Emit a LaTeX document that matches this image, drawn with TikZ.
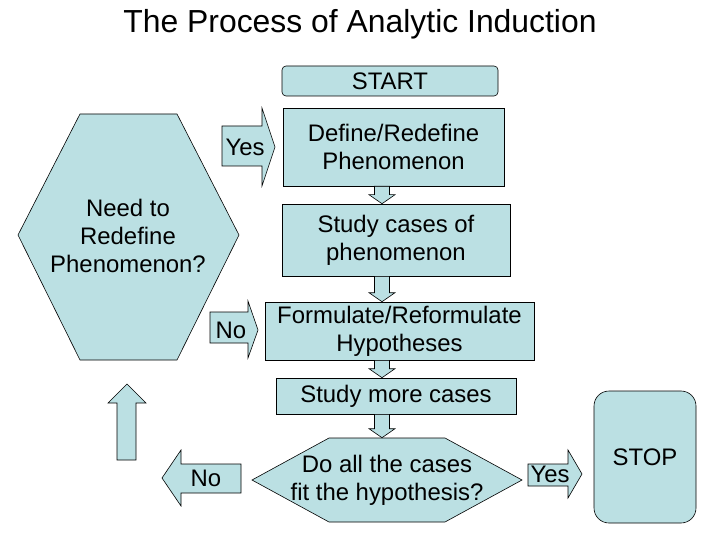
\documentclass[tikz,border=0pt]{standalone}
\usepackage{fontspec}
\setmainfont{Liberation Sans}
\usetikzlibrary{calc}
\definecolor{slide}{RGB}{187,224,227}
\tikzset{
	box/.style={draw, fill=slide, inner sep=0pt, align=center},
	blk/.style={draw, fill=slide, line join=miter},
	txt/.style={inner sep=0pt, align=center}
}
\begin{document}
\begin{tikzpicture}[x=1bp, y=-1bp, line width=0.6bp, font=\fontsize{24}{28}\selectfont]
	\useasboundingbox (0,0) rectangle (720,540);
	\node[txt, anchor=base, font=\fontsize{32}{36}\selectfont] (title) at (360,33) {The Process of Analytic Induction};
	% main column
	\node[box, rounded corners=4bp, minimum width=216bp, minimum height=30bp] (start) at (390,81) {START};
	\node[box, minimum width=221bp, minimum height=78bp] (define) at (393.5,147) {Define/Redefine\\Phenomenon};
	\node[box, minimum width=228bp, minimum height=72bp] (study) at (396,240) {Study cases of\\phenomenon};
	\node[box, minimum width=269bp, minimum height=58bp] (formulate) at (399.5,331) {Formulate/Reformulate\\Hypotheses};
	\node[box, minimum width=240bp, minimum height=36bp] (more) at (396,396) {Study more cases};
	\node[box, rounded corners=15bp, minimum width=102bp, minimum height=132bp] (stop) at (645,457) {STOP};
	% hexagons
	\draw[blk] (80,114)--(177,114)--(239,235)--(177,360)--(80,360)--(18,235)--cycle;
	\node[txt] (need) at (128,236) {Need to\\Redefine\\Phenomenon?};
	\draw[blk] (252,480)--(329,438)--(445,438)--(522,480)--(445,522)--(329,522)--cycle;
	\node[txt, minimum height=84bp] (ask) at (387,480) {Do all the cases\\fit the hypothesis?};
	% down arrows
	\coordinate (axis) at (382,0);
	\foreach \a/\b in {define/study,study/formulate,formulate/more,more/ask}{
		\path (axis |- \a.south) coordinate (p) (axis |- \b.north) coordinate (q);
		\draw[blk] ($(p)+(-7.5,0)$)--($(q)+(-7.5,-9)$)--($(q)+(-13,-9)$)--(q)--($(q)+(13,-9)$)--($(q)+(7.5,-9)$)--($(p)+(7.5,0)$)--cycle;
	}
	% side arrows
	\draw[blk] (222,126)--(262,126)--(262,108)--(275,147)--(262,186)--(262,166)--(222,166)--cycle;
	\node[txt] (yesup) at (245,147) {Yes};
	\draw[blk] (210,312)--(248,312)--(248,301)--(258,330)--(248,358)--(248,343)--(210,343)--cycle;
	\node[txt] (noup) at (231,330) {No};
	\draw[blk] (117,460)--(117,403)--(108,403)--(127,384)--(146,403)--(136,403)--(136,460)--cycle;
	\draw[blk] (241,464)--(181,464)--(181,450)--(162,478)--(181,506)--(181,493)--(241,493)--cycle;
	\node[txt] (nodown) at (206,478) {No};
	\draw[blk] (528,464)--(568,464)--(568,450)--(582,474)--(568,498)--(568,486)--(528,486)--cycle;
	\node[txt] (yesdown) at (550,474) {Yes};
\end{tikzpicture}
\end{document}
